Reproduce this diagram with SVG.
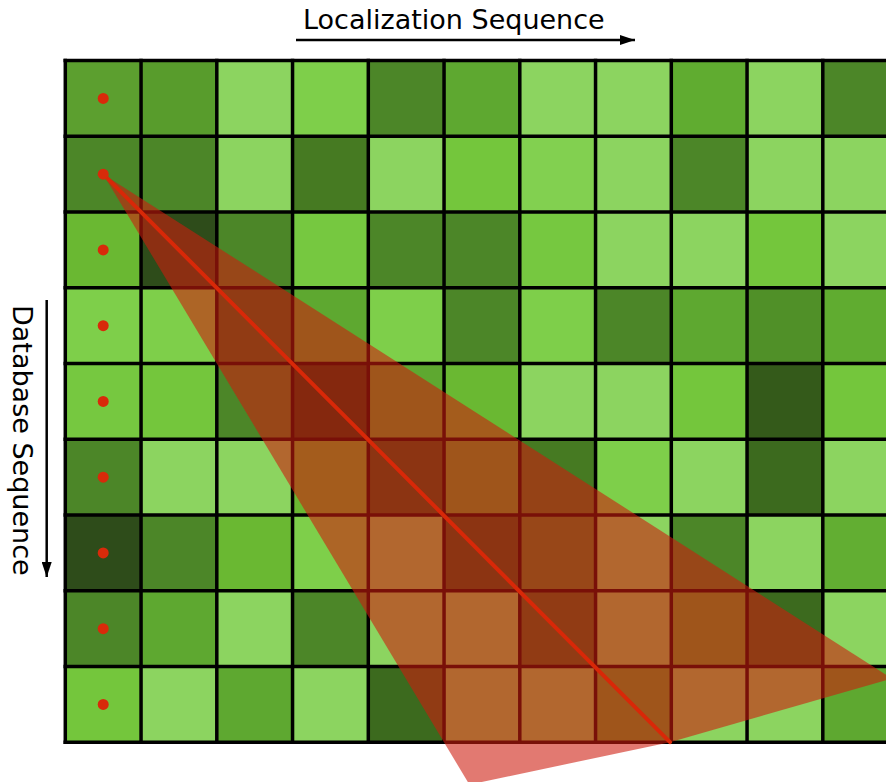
<svg xmlns="http://www.w3.org/2000/svg" width="886" height="782" viewBox="0 0 886 782">
<style>
.lbl{font-family:"DejaVu Sans","Liberation Sans",sans-serif;font-size:27px;fill:#000}
.ax{stroke:#000;stroke-width:2.5;fill:none}
.gl{stroke:#000;stroke-width:3.5}
.dot{fill:#d82a0a}
.L1{fill:#8cd460}.L2{fill:#7ecf4a}.L3{fill:#76c840}.L4{fill:#6ab832}
.M1{fill:#5ea830}.M2{fill:#5a9e2e}.D1{fill:#4c8628}.D2{fill:#467a22}
.D3{fill:#3c6a1e}.D4{fill:#30581a}.D5{fill:#2e4c1a}.D6{fill:#1f3a10}
</style>
<defs>
<marker id="ah" markerUnits="userSpaceOnUse" markerWidth="15" markerHeight="10" refX="15" refY="5" orient="auto">
<path d="M0,0 L15,5 L0,10 z" fill="#000"/>
</marker>
</defs>
<rect width="886" height="782" fill="#fff"/>
<g id="cells">
<!-- row 0 -->
<rect x="65.3" y="60.5" width="75.75" height="75.75" fill="#5c9f2f"/>
<rect x="141.05" y="60.5" width="75.75" height="75.75" fill="#589c2c"/>
<rect x="216.8" y="60.5" width="75.75" height="75.75" class="L1"/>
<rect x="292.55" y="60.5" width="75.75" height="75.75" class="L2"/>
<rect x="368.3" y="60.5" width="75.75" height="75.75" class="D1"/>
<rect x="444.05" y="60.5" width="75.75" height="75.75" class="M1"/>
<rect x="519.8" y="60.5" width="75.75" height="75.75" class="L1"/>
<rect x="595.55" y="60.5" width="75.75" height="75.75" class="L1"/>
<rect x="671.3" y="60.5" width="75.75" height="75.75" fill="#60ac30"/>
<rect x="747.05" y="60.5" width="75.75" height="75.75" class="L1"/>
<rect x="822.8" y="60.5" width="75.75" height="75.75" class="D1"/>
<!-- row 1 -->
<rect x="65.3" y="136.25" width="75.75" height="75.75" class="D1"/>
<rect x="141.05" y="136.25" width="75.75" height="75.75" class="D1"/>
<rect x="216.8" y="136.25" width="75.75" height="75.75" class="L1"/>
<rect x="292.55" y="136.25" width="75.75" height="75.75" class="D2"/>
<rect x="368.3" y="136.25" width="75.75" height="75.75" class="L1"/>
<rect x="444.05" y="136.25" width="75.75" height="75.75" fill="#74c63c"/>
<rect x="519.8" y="136.25" width="75.75" height="75.75" fill="#82d050"/>
<rect x="595.55" y="136.25" width="75.75" height="75.75" class="L1"/>
<rect x="671.3" y="136.25" width="75.75" height="75.75" class="D1"/>
<rect x="747.05" y="136.25" width="75.75" height="75.75" class="L1"/>
<rect x="822.8" y="136.25" width="75.75" height="75.75" class="L1"/>
<!-- row 2 -->
<rect x="65.3" y="212" width="75.75" height="75.75" class="L4"/>
<rect x="141.05" y="212" width="75.75" height="75.75" class="D5"/>
<rect x="216.8" y="212" width="75.75" height="75.75" class="D1"/>
<rect x="292.55" y="212" width="75.75" height="75.75" class="L3"/>
<rect x="368.3" y="212" width="75.75" height="75.75" class="D1"/>
<rect x="444.05" y="212" width="75.75" height="75.75" class="D1"/>
<rect x="519.8" y="212" width="75.75" height="75.75" class="L3"/>
<rect x="595.55" y="212" width="75.75" height="75.75" class="L1"/>
<rect x="671.3" y="212" width="75.75" height="75.75" class="L1"/>
<rect x="747.05" y="212" width="75.75" height="75.75" fill="#74c63c"/>
<rect x="822.8" y="212" width="75.75" height="75.75" class="L1"/>
<!-- row 3 -->
<rect x="65.3" y="287.75" width="75.75" height="75.75" class="L2"/>
<rect x="141.05" y="287.75" width="75.75" height="75.75" class="L2"/>
<rect x="216.8" y="287.75" width="75.75" height="75.75" class="D3"/>
<rect x="292.55" y="287.75" width="75.75" height="75.75" class="M1"/>
<rect x="368.3" y="287.75" width="75.75" height="75.75" class="L2"/>
<rect x="444.05" y="287.75" width="75.75" height="75.75" class="D1"/>
<rect x="519.8" y="287.75" width="75.75" height="75.75" class="L2"/>
<rect x="595.55" y="287.75" width="75.75" height="75.75" class="D1"/>
<rect x="671.3" y="287.75" width="75.75" height="75.75" class="M1"/>
<rect x="747.05" y="287.75" width="75.75" height="75.75" fill="#509028"/>
<rect x="822.8" y="287.75" width="75.75" height="75.75" fill="#60ac30"/>
<!-- row 4 -->
<rect x="65.3" y="363.5" width="75.75" height="75.75" class="L3"/>
<rect x="141.05" y="363.5" width="75.75" height="75.75" fill="#74c63c"/>
<rect x="216.8" y="363.5" width="75.75" height="75.75" class="D1"/>
<rect x="292.55" y="363.5" width="75.75" height="75.75" class="D6"/>
<rect x="368.3" y="363.5" width="75.75" height="75.75" class="M1"/>
<rect x="444.05" y="363.5" width="75.75" height="75.75" class="L4"/>
<rect x="519.8" y="363.5" width="75.75" height="75.75" class="L1"/>
<rect x="595.55" y="363.5" width="75.75" height="75.75" class="L1"/>
<rect x="671.3" y="363.5" width="75.75" height="75.75" fill="#74c63c"/>
<rect x="747.05" y="363.5" width="75.75" height="75.75" fill="#345a1a"/>
<rect x="822.8" y="363.5" width="75.75" height="75.75" fill="#74c63c"/>
<!-- row 5 -->
<rect x="65.3" y="439.25" width="75.75" height="75.75" class="D1"/>
<rect x="141.05" y="439.25" width="75.75" height="75.75" class="L1"/>
<rect x="216.8" y="439.25" width="75.75" height="75.75" class="L1"/>
<rect x="292.55" y="439.25" width="75.75" height="75.75" class="L4"/>
<rect x="368.3" y="439.25" width="75.75" height="75.75" class="D4"/>
<rect x="444.05" y="439.25" width="75.75" height="75.75" class="M1"/>
<rect x="519.8" y="439.25" width="75.75" height="75.75" class="D2"/>
<rect x="595.55" y="439.25" width="75.75" height="75.75" class="L2"/>
<rect x="671.3" y="439.25" width="75.75" height="75.75" class="L1"/>
<rect x="747.05" y="439.25" width="75.75" height="75.75" class="D3"/>
<rect x="822.8" y="439.25" width="75.75" height="75.75" class="L1"/>
<!-- row 6 -->
<rect x="65.3" y="515" width="75.75" height="75.75" class="D5"/>
<rect x="141.05" y="515" width="75.75" height="75.75" class="D1"/>
<rect x="216.8" y="515" width="75.75" height="75.75" class="L4"/>
<rect x="292.55" y="515" width="75.75" height="75.75" class="L2"/>
<rect x="368.3" y="515" width="75.75" height="75.75" class="L1"/>
<rect x="444.05" y="515" width="75.75" height="75.75" class="D4"/>
<rect x="519.8" y="515" width="75.75" height="75.75" class="D1"/>
<rect x="595.55" y="515" width="75.75" height="75.75" class="L1"/>
<rect x="671.3" y="515" width="75.75" height="75.75" class="D1"/>
<rect x="747.05" y="515" width="75.75" height="75.75" class="L1"/>
<rect x="822.8" y="515" width="75.75" height="75.75" fill="#62ae32"/>
<!-- row 7 -->
<rect x="65.3" y="590.75" width="75.75" height="75.75" class="D1"/>
<rect x="141.05" y="590.75" width="75.75" height="75.75" class="M1"/>
<rect x="216.8" y="590.75" width="75.75" height="75.75" class="L1"/>
<rect x="292.55" y="590.75" width="75.75" height="75.75" class="D1"/>
<rect x="368.3" y="590.75" width="75.75" height="75.75" class="L1"/>
<rect x="444.05" y="590.75" width="75.75" height="75.75" class="L1"/>
<rect x="519.8" y="590.75" width="75.75" height="75.75" class="D3"/>
<rect x="595.55" y="590.75" width="75.75" height="75.75" class="L1"/>
<rect x="671.3" y="590.75" width="75.75" height="75.75" class="M1"/>
<rect x="747.05" y="590.75" width="75.75" height="75.75" class="D3"/>
<rect x="822.8" y="590.75" width="75.75" height="75.75" class="L1"/>
<!-- row 8 -->
<rect x="65.3" y="666.5" width="75.75" height="75.75" fill="#74c63c"/>
<rect x="141.05" y="666.5" width="75.75" height="75.75" class="L1"/>
<rect x="216.8" y="666.5" width="75.75" height="75.75" class="M1"/>
<rect x="292.55" y="666.5" width="75.75" height="75.75" class="L1"/>
<rect x="368.3" y="666.5" width="75.75" height="75.75" class="D3"/>
<rect x="444.05" y="666.5" width="75.75" height="75.75" class="L1"/>
<rect x="519.8" y="666.5" width="75.75" height="75.75" class="L1"/>
<rect x="595.55" y="666.5" width="75.75" height="75.75" class="M1"/>
<rect x="671.3" y="666.5" width="75.75" height="75.75" class="L1"/>
<rect x="747.05" y="666.5" width="75.75" height="75.75" class="L1"/>
<rect x="822.8" y="666.5" width="75.75" height="75.75" class="M1"/>
</g>
<g id="gridlines" class="gl">
<line x1="65.3" y1="58.7" x2="65.3" y2="744"/>
<line x1="141.05" y1="58.7" x2="141.05" y2="744"/>
<line x1="216.8" y1="58.7" x2="216.8" y2="744"/>
<line x1="292.55" y1="58.7" x2="292.55" y2="744"/>
<line x1="368.3" y1="58.7" x2="368.3" y2="744"/>
<line x1="444.05" y1="58.7" x2="444.05" y2="744"/>
<line x1="519.8" y1="58.7" x2="519.8" y2="744"/>
<line x1="595.55" y1="58.7" x2="595.55" y2="744"/>
<line x1="671.3" y1="58.7" x2="671.3" y2="744"/>
<line x1="747.05" y1="58.7" x2="747.05" y2="744"/>
<line x1="822.8" y1="58.7" x2="822.8" y2="744"/>
<line x1="63.5" y1="60.5" x2="886" y2="60.5"/>
<line x1="63.5" y1="136.25" x2="886" y2="136.25"/>
<line x1="63.5" y1="212" x2="886" y2="212"/>
<line x1="63.5" y1="287.75" x2="886" y2="287.75"/>
<line x1="63.5" y1="363.5" x2="886" y2="363.5"/>
<line x1="63.5" y1="439.25" x2="886" y2="439.25"/>
<line x1="63.5" y1="515" x2="886" y2="515"/>
<line x1="63.5" y1="590.75" x2="886" y2="590.75"/>
<line x1="63.5" y1="666.5" x2="886" y2="666.5"/>
<line x1="63.5" y1="742.25" x2="886" y2="742.25"/>
</g>
<g id="cone">
<polygon points="103.2,174.15 892,678.5 670,742.2 469.4,784.6" fill="#ce1b0e" fill-opacity="0.59"/>
</g>
<g id="connectors">
<line id="path" x1="103.2" y1="174.15" x2="670" y2="742.2" stroke="#d82808" stroke-width="4" stroke-linecap="round"/>
<line class="ax" x1="296" y1="40" x2="635" y2="40" marker-end="url(#ah)"/>
<line class="ax" x1="46.7" y1="300" x2="46.7" y2="577" marker-end="url(#ah)"/>
</g>
<g id="dots">
<circle class="dot" cx="103.2" cy="98.4" r="5.5"/>
<circle class="dot" cx="103.2" cy="174.15" r="5.5"/>
<circle class="dot" cx="103.2" cy="249.9" r="5.5"/>
<circle class="dot" cx="103.2" cy="325.65" r="5.5"/>
<circle class="dot" cx="103.2" cy="401.4" r="5.5"/>
<circle class="dot" cx="103.2" cy="477.15" r="5.5"/>
<circle class="dot" cx="103.2" cy="552.9" r="5.5"/>
<circle class="dot" cx="103.2" cy="628.65" r="5.5"/>
<circle class="dot" cx="103.2" cy="704.4" r="5.5"/>
</g>
<g id="labels">
<text class="lbl" x="303" y="29.3">Localization Sequence</text>
<text class="lbl" transform="translate(13,305) rotate(90)">Database Sequence</text>
</g>
</svg>
